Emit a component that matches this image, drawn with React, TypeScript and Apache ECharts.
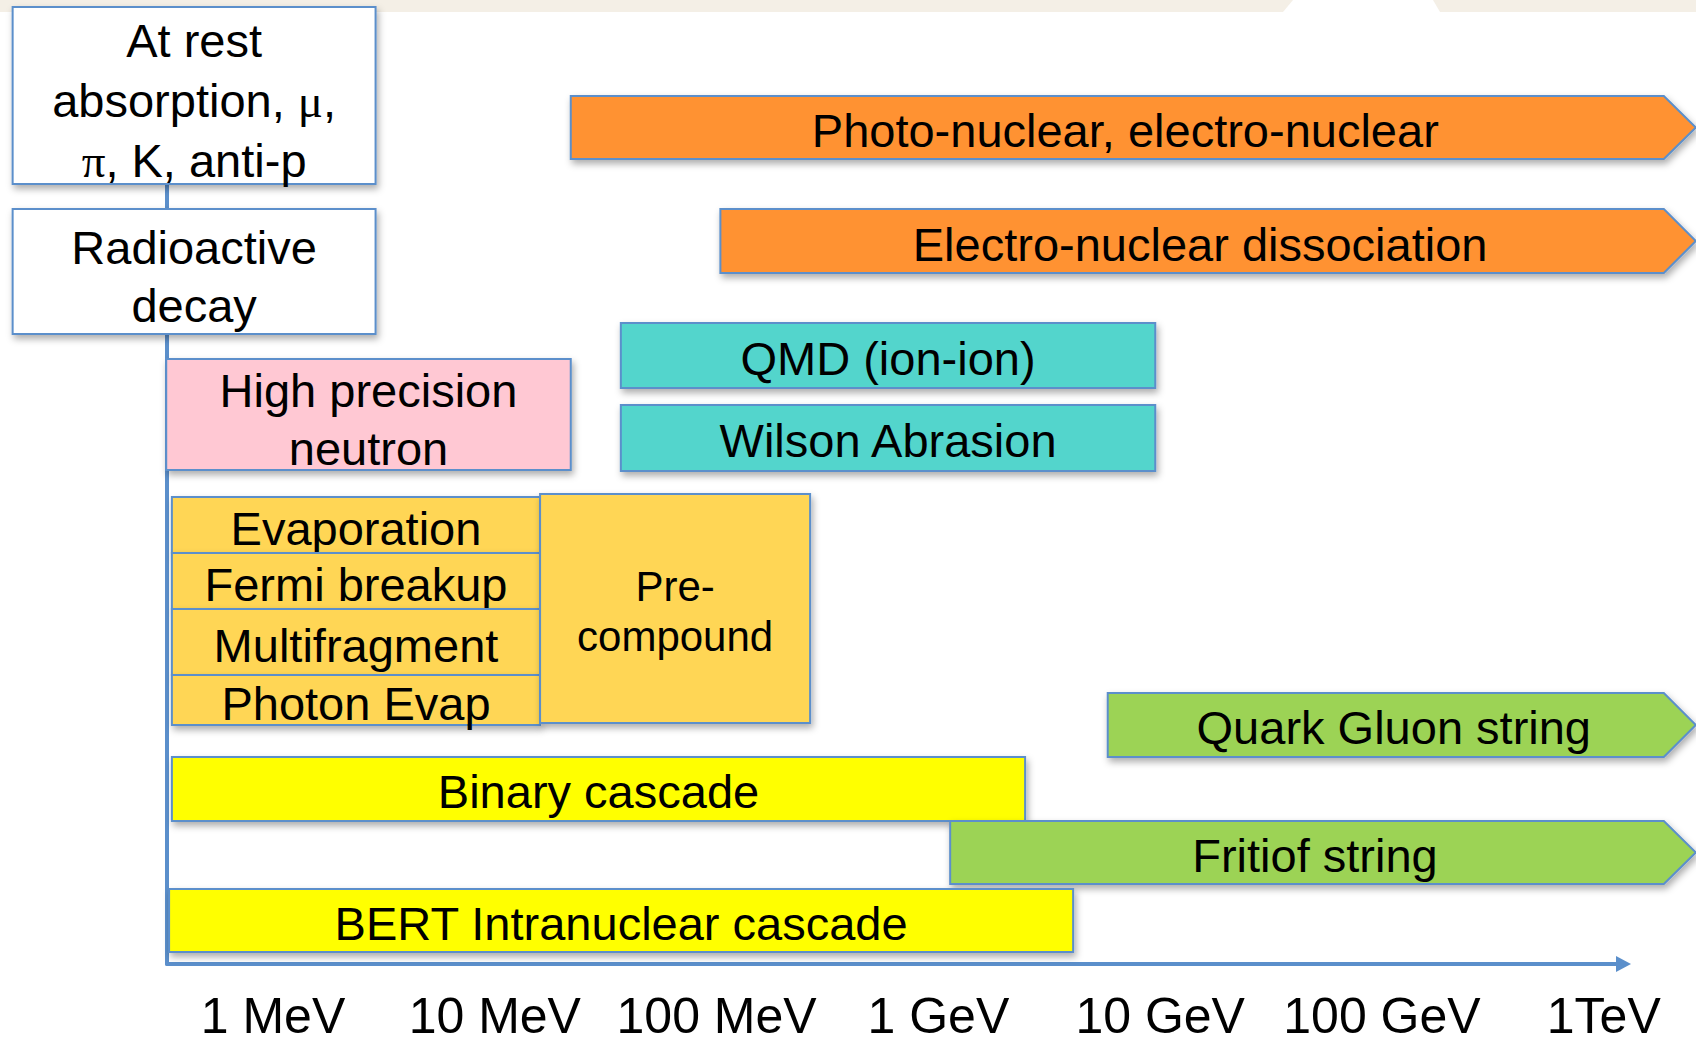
import React, { useEffect, useRef } from 'react';
import * as echarts from 'echarts';

// ---- Data (energies in MeV, vertical levels in arbitrary layout units 0..100) ----
const TICK_EXPONENTS = [0, 1, 2, 3, 4, 5, 6];
const TICK_LABELS = ['1 MeV', '10 MeV', '100 MeV', '1 GeV', '10 GeV', '100 GeV', '1TeV'];

const LABELS = [
  'At rest\nabsorption, {g|μ},\n{g|π}, K, anti-p',
  'Radioactive\ndecay',
  'High precision\nneutron',
  'Photo-nuclear, electro-nuclear',
  'Electro-nuclear dissociation',
  'QMD (ion-ion)',
  'Wilson Abrasion',
  'Evaporation',
  'Fermi breakup',
  'Multifragment',
  'Photon Evap',
  'Pre-\ncompound',
  'Binary cascade',
  'Quark Gluon string',
  'Fritiof string',
  'BERT Intranuclear cascade',
];
const KIND = ['rest', 'rest', 'neutron', 'photo', 'photo', 'ion', 'ion', 'deexc', 'deexc', 'deexc', 'deexc', 'deexc', 'cascade', 'string', 'string', 'cascade'];
const E_LOW = [0.067, 0.067, 0.33, 22, 104, 37, 37, 0.35, 0.35, 0.35, 0.35, 16, 0.35, 5800, 1130, 0.34];
const E_HIGH = [2.9, 2.9, 22, 2.6e6, 2.6e6, 9500, 9500, 16, 16, 16, 16, 264, 2460, 2.6e6, 2.6e6, 4050];
const LEVEL_BOTTOM = [81.76, 66.04, 51.78, 84.38, 72.43, 60.38, 51.68, 43.08, 37.21, 30.29, 25.05, 25.26, 14.99, 21.7, 8.39, 1.26];
const LEVEL_TOP = [100.31, 79.14, 63.42, 90.99, 79.14, 67.19, 58.6, 48.95, 43.08, 37.21, 30.29, 49.27, 21.7, 28.41, 14.99, 7.86];
const OPEN_ENDED = [false, false, false, true, true, false, false, false, false, false, false, false, false, true, true, false];

// axis extent (MeV)
const AXIS_MIN = 0.3327;
const AXIS_MAX = 1.227e6;

// ---- Styles ----
const KIND_FILL: Record<string, string> = {
  rest: '#FFFFFF',
  neutron: '#FFC8D3',
  photo: '#FF9232',
  ion: '#52D5CC',
  deexc: '#FFD655',
  cascade: '#FFFF00',
  string: '#9CD355',
};
const BORDER = '#5B8FCB';
const ARROW_DEPTH = 32;
const FONT = 'Liberation Sans, Arial, sans-serif';
const TEXT_DEFAULT = { fontSize: 47, lineHeight: 58, dy: 3, dyMulti: 5 };
const TEXT_OVERRIDE: Record<string, { fontSize: number; lineHeight: number; dy: number }> = {
  'Pre-\ncompound': { fontSize: 42, lineHeight: 50, dy: 3 },
  'At rest\nabsorption, {g|μ},\n{g|π}, K, anti-p': { fontSize: 47, lineHeight: 60, dy: 5 },
};

export default function App() {
  const ref = useRef<HTMLDivElement>(null);

  useEffect(() => {
    const chart = echarts.init(ref.current!, null, { renderer: 'svg' });

    const data = LABELS.map((_, i) => [E_LOW[i], E_HIGH[i], LEVEL_BOTTOM[i], LEVEL_TOP[i]]);

    const renderItem = (params: any, api: any) => {
      const i = params.dataIndex;
      const pTL = api.coord([api.value(0), api.value(3)]);
      const pBR = api.coord([api.value(1), api.value(2)]);
      const x0 = pTL[0];
      const yt = pTL[1];
      const x1 = pBR[0];
      const yb = pBR[1];
      const open = OPEN_ENDED[i];
      const body = open ? x1 - ARROW_DEPTH : x1;
      const shapeStyle = {
        fill: KIND_FILL[KIND[i]],
        stroke: BORDER,
        lineWidth: 2,
        shadowBlur: 7,
        shadowOffsetX: 2,
        shadowOffsetY: 4,
        shadowColor: 'rgba(0,0,0,0.32)',
      };
      const shapeEl = open
        ? {
            type: 'polygon',
            shape: { points: [[x0, yt], [body, yt], [x1, (yt + yb) / 2], [body, yb], [x0, yb]] },
            style: shapeStyle,
          }
        : {
            type: 'rect',
            shape: { x: x0, y: yt, width: x1 - x0, height: yb - yt },
            style: shapeStyle,
          };
      const label = LABELS[i];
      const multi = label.indexOf('\n') >= 0;
      const ov = TEXT_OVERRIDE[label];
      const fontSize = ov ? ov.fontSize : TEXT_DEFAULT.fontSize;
      const lineHeight = ov ? ov.lineHeight : TEXT_DEFAULT.lineHeight;
      const dy = ov ? ov.dy : multi ? TEXT_DEFAULT.dyMulti : TEXT_DEFAULT.dy;
      const cx = open ? (x0 + (body + x1) / 2) / 2 : (x0 + x1) / 2;
      const cy = (yt + yb) / 2 + dy;
      const textEl = {
        type: 'text',
        x: cx,
        y: cy,
        silent: true,
        style: {
          text: label,
          fill: '#000000',
          fontSize,
          fontFamily: FONT,
          lineHeight,
          align: 'center',
          verticalAlign: 'middle',
          rich: {
            g: { fontFamily: 'Liberation Serif, Times New Roman, serif', fontSize, lineHeight, fill: '#000000' },
          },
        },
      };
      return { type: 'group', children: [shapeEl, textEl] };
    };

    const option: any = {
      animation: false,
      backgroundColor: '#FFFFFF',
      grid: { left: 167, right: 72.5, top: 10, bottom: 81, containLabel: false, outerBoundsMode: 'none' },
      graphic: [
        { type: 'rect', z: -10, silent: true, shape: { x: 0, y: 0, width: 1696, height: 12 }, style: { fill: '#F4EFE6' } },
        { type: 'polygon', z: -9, silent: true, shape: { points: [[1293, 0], [1433, 0], [1440, 12], [1283, 12]] }, style: { fill: '#FFFFFF' } },
      ],
      xAxis: {
        type: 'log',
        logBase: 10,
        min: AXIS_MIN,
        max: AXIS_MAX,
        axisLine: {
          show: true,
          onZero: false,
          symbol: ['none', 'triangle'],
          symbolSize: [16, 15],
          lineStyle: { color: BORDER, width: 4 },
        },
        axisTick: { show: false },
        splitLine: { show: false },
        minorTick: { show: false },
        axisLabel: {
          show: true,
          color: '#000000',
          fontSize: 50,
          fontFamily: 'Liberation Sans, Arial, sans-serif',
          margin: 27,
          formatter: (v: number) => {
            const e = Math.log10(v);
            const r = Math.round(e);
            if (Math.abs(e - r) > 1e-6) return '';
            const idx = TICK_EXPONENTS.indexOf(r);
            return idx >= 0 ? TICK_LABELS[idx] : '';
          },
        },
      },
      yAxis: {
        type: 'value',
        min: 0,
        max: 100,
        axisLine: {
          show: true,
          onZero: false,
          lineStyle: { color: BORDER, width: 4 },
        },
        axisTick: { show: false },
        axisLabel: { show: false },
        splitLine: { show: false },
      },
      series: [
        {
          type: 'custom',
          clip: false,
          renderItem,
          encode: { x: [0, 1], y: [2, 3] },
          data,
          z: 5,
        },
      ],
    };

    chart.setOption(option);
    return () => chart.dispose();
  }, []);

  return (
    <div
      ref={ref}
      style={{ position: 'absolute', left: 0, top: 0, width: 1696, height: 1045, background: '#FFFFFF' }}
    />
  );
}
